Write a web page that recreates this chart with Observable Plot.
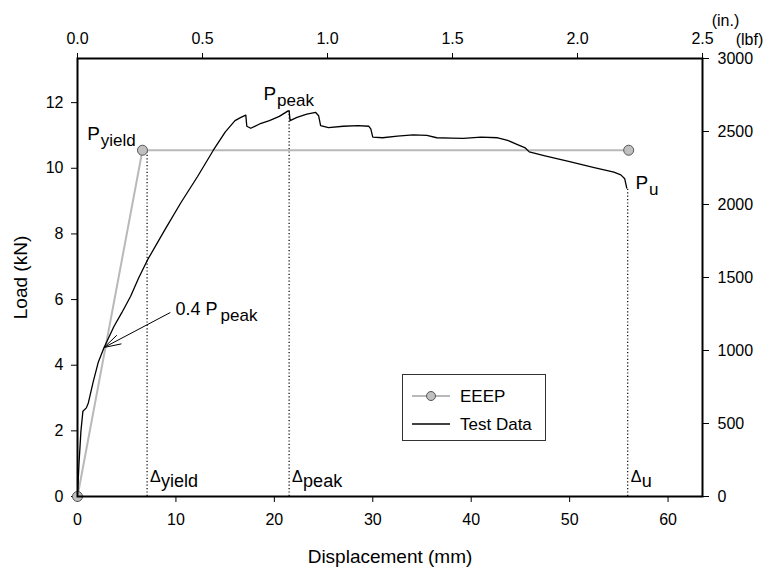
<!DOCTYPE html>
<html>
<head>
<meta charset="utf-8">
<script src="https://cdn.jsdelivr.net/npm/d3@7"></script>
<script src="https://cdn.jsdelivr.net/npm/@observablehq/plot@0.6"></script>
<style>
  body { margin: 0; background: #fff; }
  #wrap { position: relative; width: 769px; height: 569px; font-family: "Liberation Sans", Arial, sans-serif; }
  #legend { position: absolute; left: 402px; top: 374px; width: 144px; height: 67px; border: 1px solid #333; background: #fff; box-sizing: border-box; }
  #legend svg { display: block; }
</style>
</head>
<body>
<div id="wrap"><div id="chart"></div><div id="legend"></div></div>
<script>
// ---- data ----
const KN_PER_LBF = 0.0044482216;
const MM_PER_IN = 25.4;

const testMm = [0, 0.15, 0.35, 0.55, 0.9, 1.1, 1.6, 2.1, 2.7, 3.7, 4.5, 5.4, 6.2, 7.1, 8.9, 10.5, 12.2, 13.8, 15.0, 16.0, 16.6, 17.1, 17.2, 17.6, 18.5, 19.5, 20.5, 21.4, 21.5, 21.6, 22.3, 23.3, 24.2, 24.5, 24.7, 25.5, 27.0, 28.5, 29.6, 29.8, 30.0, 31.0, 32.5, 34.1, 35.5, 36.5, 38.0, 39.2, 41.0, 42.7, 43.7, 44.7, 45.5, 45.9, 47.5, 50.0, 52.5, 54.5, 55.2, 55.6, 55.8];
const testKn = [0, 1.0, 2.0, 2.6, 2.7, 2.85, 3.5, 4.08, 4.54, 5.18, 5.6, 6.1, 6.65, 7.2, 8.14, 8.95, 9.75, 10.55, 11.1, 11.45, 11.55, 11.62, 11.28, 11.22, 11.35, 11.45, 11.58, 11.75, 11.75, 11.45, 11.55, 11.65, 11.7, 11.6, 11.3, 11.24, 11.28, 11.3, 11.28, 11.2, 10.95, 10.93, 10.98, 11.02, 11.0, 10.93, 10.92, 10.91, 10.95, 10.93, 10.85, 10.72, 10.62, 10.5, 10.38, 10.2, 10.02, 9.88, 9.8, 9.68, 9.4];

const eeepMm = [0, 6.6, 56.0];
const eeepKn = [0, 10.55, 10.55];

const deltaNames = ["yield", "peak", "u"];
const deltaMm = [7.07, 21.5, 55.9];
const deltaTopKn = [10.55, 11.75, 9.4];

const pNames = ["yield", "peak", "u"];
const pMm = [1.0, 18.9, 56.7];
const pKn = [10.85, 12.07, 9.36];

const arrowTip = {mm: 2.7, kn: 4.54};
const arrowTail = {mm: 9.4, kn: 5.6};
const ratioLabel = {mm: 9.96, kn: 5.52, main: "0.4 P", sub: "peak"};

const mmTicks = [0, 10, 20, 30, 40, 50, 60];
const inTicks = [0, 0.5, 1.0, 1.5, 2.0, 2.5];
const knTicks = [0, 2, 4, 6, 8, 10, 12];
const lbfTicks = [0, 500, 1000, 1500, 2000, 2500, 3000];

const xTitle = "Displacement (mm)";
const yTitle = "Load (kN)";
const legendLabels = ["EEEP", "Test Data"];

// ---- tables ----
const test = testMm.map((x, i) => ({x, y: testKn[i]}));
const eeep = eeepMm.map((x, i) => ({x, y: eeepKn[i]}));
const deltas = deltaNames.map((n, i) => ({n, x: deltaMm[i], top: deltaTopKn[i]}));
const plabels = pNames.map((n, i) => ({n, x: pMm[i], y: pKn[i]}));

const font = '"Liberation Sans", Arial, sans-serif';
const grey = "#b9b9b9";

const chart = Plot.plot({
  width: 769,
  height: 569,
  marginLeft: 77,
  marginRight: 67,
  marginTop: 58,
  marginBottom: 73,
  style: {fontFamily: font, fontSize: "16px", color: "#000", background: "#fff"},
  x: {domain: [0, 2.5 * MM_PER_IN]},
  y: {domain: [0, 3000 * KN_PER_LBF]},
  marks: [
    Plot.axisX({anchor: "bottom", ticks: mmTicks, tickSize: 6, tickPadding: 11, label: null, fontSize: 16}),
    Plot.axisX({anchor: "top", ticks: inTicks.map(v => v * MM_PER_IN), tickFormat: v => (v / MM_PER_IN).toFixed(1), tickSize: 6, tickPadding: 9, label: null, fontSize: 16}),
    Plot.axisY({anchor: "left", ticks: knTicks, tickSize: 6, tickPadding: 8, label: null, fontSize: 16}),
    Plot.axisY({anchor: "right", ticks: lbfTicks.map(v => v * KN_PER_LBF), tickFormat: v => String(Math.round(v / KN_PER_LBF)), tickSize: 6, tickPadding: 9, label: null, fontSize: 16}),
    Plot.text([xTitle], {frameAnchor: "bottom", dy: 60, textAnchor: "middle", lineAnchor: "middle", fontSize: 19}),
    Plot.text([yTitle], {frameAnchor: "left", dx: -57, rotate: -90, textAnchor: "middle", lineAnchor: "middle", fontSize: 19}),
    Plot.text(["(in.)"], {frameAnchor: "top-right", dx: 23, dy: -38, textAnchor: "middle", lineAnchor: "middle", fontSize: 16}),
    Plot.text(["(lbf)"], {frameAnchor: "top-right", dx: 47, dy: -19, textAnchor: "middle", lineAnchor: "middle", fontSize: 16}),
    Plot.ruleX(deltas, {x: "x", y1: 0, y2: "top", stroke: "#000", strokeWidth: 1.2, strokeDasharray: "1.2,2.2"}),
    Plot.line(eeep, {x: "x", y: "y", stroke: grey, strokeWidth: 2}),
    Plot.line(test, {x: "x", y: "y", stroke: "#000", strokeWidth: 1.3}),
    Plot.dot(eeep, {x: "x", y: "y", r: 5, fill: "#c0c0c0", stroke: "#555", strokeWidth: 1}),
    Plot.arrow([0], {x1: arrowTail.mm, y1: arrowTail.kn, x2: arrowTip.mm, y2: arrowTip.kn, stroke: "#000", strokeWidth: 1, headLength: 26, headAngle: 32, bend: 0}),
    Plot.text([ratioLabel], {x: "mm", y: "kn", text: "main", textAnchor: "start", lineAnchor: "bottom", fontSize: 18}),
    Plot.text([ratioLabel], {x: "mm", y: "kn", text: "sub", textAnchor: "start", lineAnchor: "bottom", fontSize: 17, dx: 45, dy: 6}),
    Plot.text(plabels, {x: "x", y: "y", text: () => "P", textAnchor: "start", lineAnchor: "bottom", fontSize: 19}),
    Plot.text(plabels, {x: "x", y: "y", text: "n", textAnchor: "start", lineAnchor: "bottom", fontSize: 17, dx: 13.5, dy: 6}),
    Plot.text(deltas, {x: "x", y: 0.45, text: () => "\u0394", textAnchor: "start", lineAnchor: "bottom", fontSize: 16, dx: 3}),
    Plot.text(deltas, {x: "x", y: 0.45, text: "n", textAnchor: "start", lineAnchor: "bottom", fontSize: 18, dx: 14, dy: 5}),
    Plot.frame({stroke: "#000", strokeWidth: 2})
  ]
});
document.getElementById("chart").appendChild(chart);

// ---- legend ----
const lg = d3.select("#legend").append("svg").attr("width", 142).attr("height", 65);
const rows = [{y: 21, stroke: grey, dot: true}, {y: 49, stroke: "#000", dot: false}];
rows.forEach((r, i) => {
  lg.append("line").attr("x1", 9).attr("x2", 47).attr("y1", r.y).attr("y2", r.y).attr("stroke", r.stroke).attr("stroke-width", r.dot ? 2 : 1.3);
  if (r.dot) lg.append("circle").attr("cx", 28).attr("cy", r.y).attr("r", 4.5).attr("fill", "#c0c0c0").attr("stroke", "#555");
  lg.append("text").attr("x", 57).attr("y", r.y + 6).attr("font-family", font).attr("font-size", 17).text(legendLabels[i]);
});
</script>
</body>
</html>
